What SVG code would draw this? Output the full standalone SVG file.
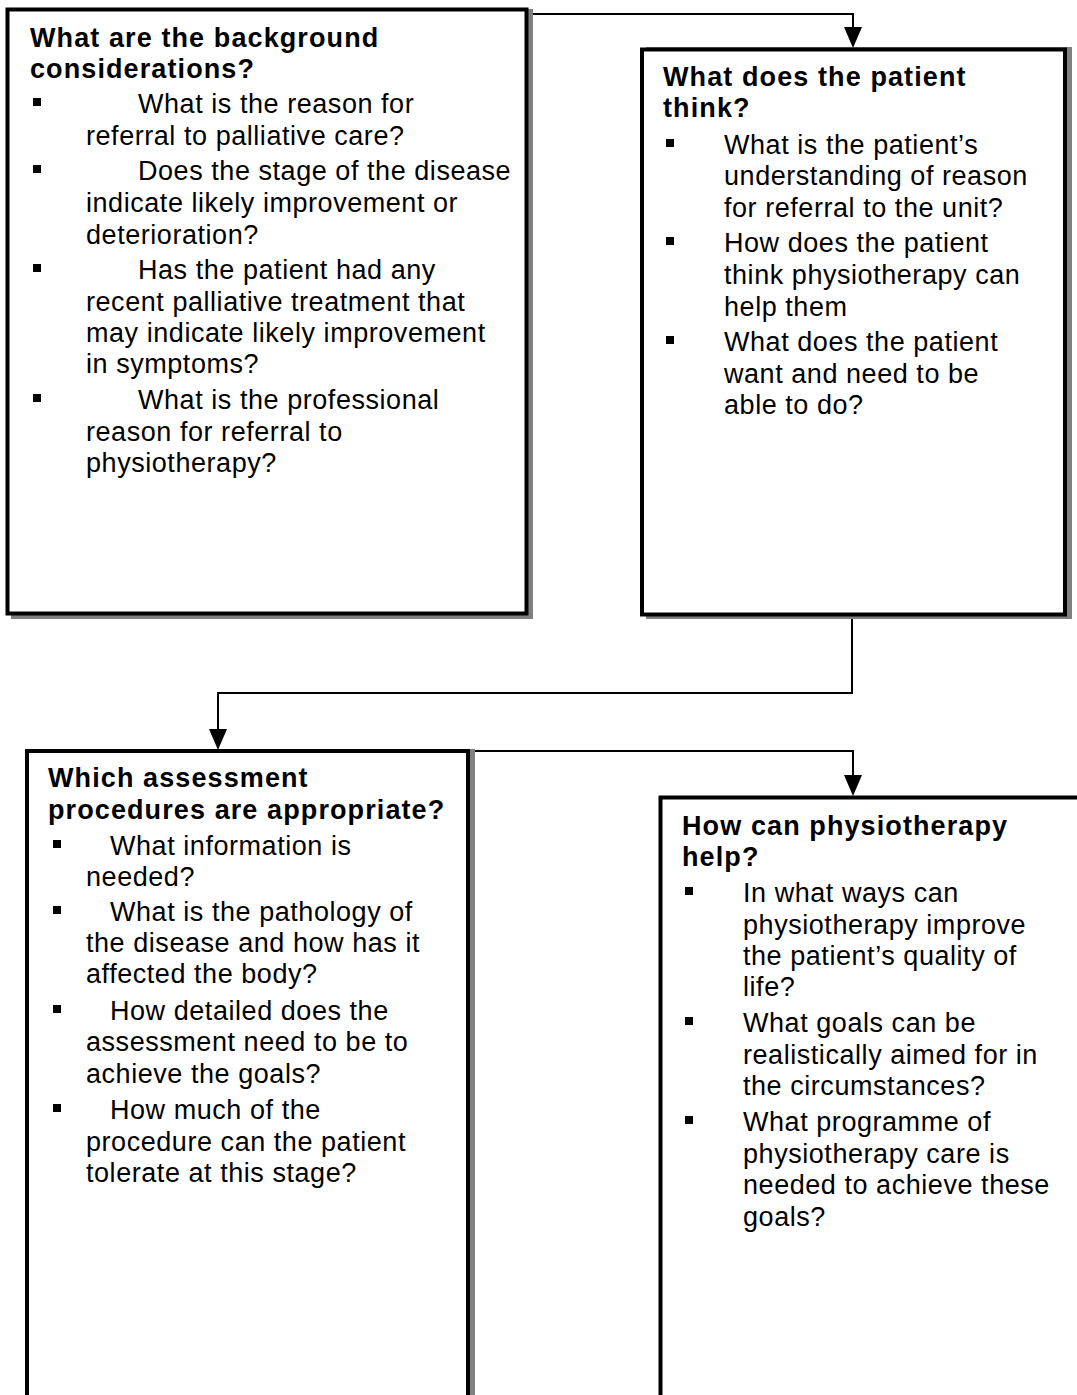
<svg xmlns="http://www.w3.org/2000/svg" width="1077" height="1395" viewBox="0 0 1077 1395">
<style>
  text { font-family: "Liberation Sans", Arial, sans-serif; font-size: 27px; letter-spacing: 0.55px; fill: #000; }
  .h { font-weight: bold; letter-spacing: 1.1px; }
  .box { fill: #fff; stroke: #000; stroke-width: 4; }
  .shadow { fill: #808080; }
  .bul { fill: #000; }
  .conn { fill: none; stroke: #000; stroke-width: 2; }
</style>
<rect width="1077" height="1395" fill="#fff"/>

<g id="connectors">
  <path class="conn" d="M528,14 H853 V27" />
  <path d="M844,27 L862,27 L853,48 Z" fill="#000"/>
  <path class="conn" d="M852,616 V693 H218 V729" />
  <path d="M209,729 L227,729 L218,750 Z" fill="#000"/>
  <path class="conn" d="M475,751 H853 V775" />
  <path d="M844,775 L862,775 L853,796 Z" fill="#000"/>
</g>

<g id="node-background">
  <rect class="shadow" x="11" y="9" width="522" height="610"/>
  <rect class="box" x="7.5" y="9.5" width="519" height="604"/>
  <rect class="bul" x="33" y="98" width="8" height="8"/>
  <rect class="bul" x="33" y="165" width="8" height="8"/>
  <rect class="bul" x="33" y="264" width="8" height="8"/>
  <rect class="bul" x="33" y="394" width="8" height="8"/>
  <text>
    <tspan class="h" x="30" y="47">What are the background</tspan>
    <tspan class="h" x="30" y="78">considerations?</tspan>
    <tspan x="138" y="113">What is the reason for</tspan>
    <tspan x="86" y="145">referral to palliative care?</tspan>
    <tspan x="138" y="180">Does the stage of the disease</tspan>
    <tspan x="86" y="212">indicate likely improvement or</tspan>
    <tspan x="86" y="244">deterioration?</tspan>
    <tspan x="138" y="279">Has the patient had any</tspan>
    <tspan x="86" y="311">recent palliative treatment that</tspan>
    <tspan x="86" y="342">may indicate likely improvement</tspan>
    <tspan x="86" y="373">in symptoms?</tspan>
    <tspan x="138" y="409">What is the professional</tspan>
    <tspan x="86" y="441">reason for referral to</tspan>
    <tspan x="86" y="472">physiotherapy?</tspan>
  </text>
</g>

<g id="node-patient">
  <rect class="shadow" x="646" y="47" width="426" height="572"/>
  <rect class="box" x="642" y="49.5" width="423" height="565"/>
  <rect class="bul" x="666" y="139" width="8" height="8"/>
  <rect class="bul" x="666" y="237" width="8" height="8"/>
  <rect class="bul" x="666" y="336" width="8" height="8"/>
  <text>
    <tspan class="h" x="663" y="86">What does the patient</tspan>
    <tspan class="h" x="663" y="117">think?</tspan>
    <tspan x="724" y="154">What is the patient’s</tspan>
    <tspan x="724" y="185">understanding of reason</tspan>
    <tspan x="724" y="217">for referral to the unit?</tspan>
    <tspan x="724" y="252">How does the patient</tspan>
    <tspan x="724" y="284">think physiotherapy can</tspan>
    <tspan x="724" y="316">help them</tspan>
    <tspan x="724" y="351">What does the patient</tspan>
    <tspan x="724" y="383">want and need to be</tspan>
    <tspan x="724" y="414">able to do?</tspan>
  </text>
</g>

<g id="node-assessment">
  <rect class="shadow" x="31" y="749" width="444" height="660"/>
  <rect class="box" x="27" y="751" width="441" height="660"/>
  <rect class="bul" x="53" y="840" width="8" height="8"/>
  <rect class="bul" x="53" y="906" width="8" height="8"/>
  <rect class="bul" x="53" y="1005" width="8" height="8"/>
  <rect class="bul" x="53" y="1104" width="8" height="8"/>
  <text>
    <tspan class="h" x="48" y="787">Which assessment</tspan>
    <tspan class="h" x="48" y="819">procedures are appropriate?</tspan>
    <tspan x="110" y="855">What information is</tspan>
    <tspan x="86" y="886">needed?</tspan>
    <tspan x="110" y="921">What is the pathology of</tspan>
    <tspan x="86" y="952">the disease and how has it</tspan>
    <tspan x="86" y="983">affected the body?</tspan>
    <tspan x="110" y="1020">How detailed does the</tspan>
    <tspan x="86" y="1051">assessment need to be to</tspan>
    <tspan x="86" y="1083">achieve the goals?</tspan>
    <tspan x="110" y="1119">How much of the</tspan>
    <tspan x="86" y="1151">procedure can the patient</tspan>
    <tspan x="86" y="1182">tolerate at this stage?</tspan>
  </text>
</g>

<g id="node-help">
  <rect class="box" x="660.5" y="797.5" width="440" height="620"/>
  <rect class="bul" x="685" y="887" width="8" height="8"/>
  <rect class="bul" x="685" y="1017" width="8" height="8"/>
  <rect class="bul" x="685" y="1116" width="8" height="8"/>
  <text>
    <tspan class="h" x="682" y="835">How can physiotherapy</tspan>
    <tspan class="h" x="682" y="866">help?</tspan>
    <tspan x="743" y="902">In what ways can</tspan>
    <tspan x="743" y="934">physiotherapy improve</tspan>
    <tspan x="743" y="965">the patient’s quality of</tspan>
    <tspan x="743" y="996">life?</tspan>
    <tspan x="743" y="1032">What goals can be</tspan>
    <tspan x="743" y="1064">realistically aimed for in</tspan>
    <tspan x="743" y="1095">the circumstances?</tspan>
    <tspan x="743" y="1131">What programme of</tspan>
    <tspan x="743" y="1163">physiotherapy care is</tspan>
    <tspan x="743" y="1194">needed to achieve these</tspan>
    <tspan x="743" y="1226">goals?</tspan>
  </text>
</g>
</svg>
